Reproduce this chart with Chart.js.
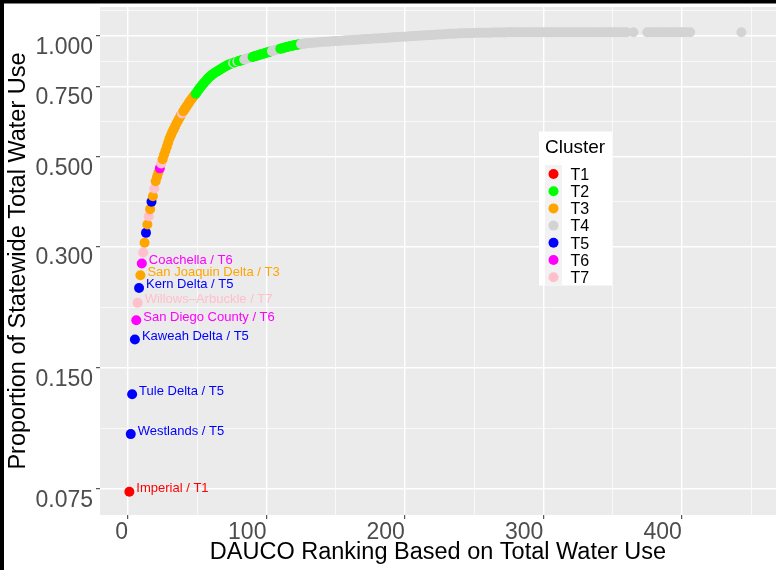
<!DOCTYPE html>
<html>
<head>
<meta charset="utf-8">
<script src="https://cdn.jsdelivr.net/npm/chart.js@4.4.0/dist/chart.umd.min.js"></script>
<style>
  html, body { margin: 0; padding: 0; background: #ffffff; }
  #wrap { position: relative; width: 776px; height: 570px; }
</style>
</head>
<body>
<div id="wrap"><canvas id="chart" width="776" height="570"></canvas></div>
<script>
// Cluster names and colours
const clusterNames = ['T1', 'T2', 'T3', 'T4', 'T5', 'T6', 'T7'];
const clusterColors = ['#FF0000', '#00FF00', '#FFA500', '#D3D3D3', '#0000FF', '#FF00FF', '#FFC0CB'];

// DAUCO rank (x), cumulative share of statewide water use (y), cluster number
const ranks = [
  1, 2, 3, 5, 6, 7, 8, 9, 10, 11, 12, 13, 14, 15, 16, 17, 18, 19, 20,
  21, 22, 23, 24, 25, 26, 27, 28, 29, 30, 31, 32, 33, 34, 35, 36, 37, 38, 39, 40,
  41, 42, 43, 44, 45, 46, 47, 48, 49, 50, 51, 52, 53, 54, 55, 56, 57, 58, 59, 60,
  61, 62, 63, 64, 65, 66, 67, 68, 69, 70, 71, 72, 73, 74, 75, 76, 77, 78, 79, 80,
  81, 82, 83, 84, 85, 86, 87, 88, 89, 90, 91, 92, 93, 94, 95, 96, 97, 98, 99, 100,
  101, 102, 103, 104, 105, 106, 107, 108, 109, 110, 111, 112, 113, 114, 115, 116, 117, 118, 119, 120,
  121, 122, 123, 124, 125, 126, 127, 128, 129, 130,
  132, 134, 136, 138, 140, 142, 144, 146, 148, 150, 152, 154, 156, 158, 160,
  162, 164, 166, 168, 170, 172, 174, 176, 178, 180, 182, 184, 186, 188, 190,
  192, 194, 196, 198, 200, 202, 204, 206, 208, 210, 212, 214, 216, 218, 220,
  222, 224, 226, 228, 230, 232, 234, 236, 238, 240, 242, 244, 246, 248, 250,
  252, 254, 256, 258, 260, 262, 264, 266, 268, 270, 272, 274, 276, 278, 280,
  282, 284, 286, 288, 290, 292, 294, 296, 298, 300, 302, 304, 306, 308, 310,
  312, 314, 316, 318, 320, 322, 324, 326, 328, 330, 332, 334, 336, 338, 340,
  342, 344, 346, 348, 350, 352, 354, 356, 358, 360,
  365, 375, 377, 379, 381, 383, 385, 387, 389, 391, 393, 395, 397, 399, 401, 403, 406,
  443
];
const shares = [
  0.0738, 0.1026, 0.1289, 0.1762, 0.1968, 0.2173, 0.2367, 0.2545, 0.2721, 0.2899, 0.3066, 0.3243, 0.3401, 0.3567, 0.3714, 0.3873, 0.400, 0.4178, 0.4357,
  0.447, 0.458, 0.469, 0.482, 0.494, 0.506, 0.518, 0.530, 0.543, 0.556, 0.567, 0.577, 0.586, 0.596, 0.606, 0.615, 0.624, 0.633, 0.642, 0.650,
  0.658, 0.666, 0.674, 0.682, 0.690, 0.697, 0.705, 0.712, 0.719, 0.727, 0.735, 0.743, 0.751, 0.758, 0.765, 0.772, 0.779, 0.786, 0.792, 0.797,
  0.802, 0.807, 0.811, 0.815, 0.819, 0.823, 0.827, 0.831, 0.835, 0.839, 0.843, 0.846, 0.849, 0.852, 0.855, 0.857, 0.859, 0.862, 0.864, 0.866,
  0.868, 0.870, 0.872, 0.874, 0.876, 0.879, 0.881, 0.883, 0.885, 0.887, 0.889, 0.891, 0.893, 0.895, 0.898, 0.900, 0.902, 0.904, 0.906, 0.909,
  0.911, 0.913, 0.915, 0.917, 0.919, 0.921, 0.923, 0.925, 0.927, 0.929, 0.931, 0.933, 0.935, 0.937, 0.939, 0.941, 0.943, 0.944, 0.946, 0.948,
  0.949, 0.951, 0.952, 0.953, 0.955, 0.956, 0.957, 0.958, 0.959, 0.960,
  0.961, 0.962, 0.963, 0.965, 0.966, 0.967, 0.968, 0.969, 0.970, 0.971, 0.972, 0.973, 0.974, 0.975, 0.976,
  0.977, 0.978, 0.979, 0.980, 0.981, 0.982, 0.983, 0.984, 0.985, 0.986, 0.987, 0.988, 0.989, 0.990, 0.991,
  0.992, 0.993, 0.994, 0.995, 0.996, 0.997, 0.998, 0.999, 1.000, 1.001, 1.002, 1.003, 1.004, 1.005, 1.006,
  1.007, 1.008, 1.009, 1.010, 1.011, 1.012, 1.013, 1.013, 1.014, 1.015, 1.015, 1.016, 1.016, 1.017, 1.017,
  1.018, 1.018, 1.018, 1.019, 1.019, 1.019, 1.020, 1.020, 1.020, 1.020, 1.020, 1.021, 1.021, 1.021, 1.021,
  1.021, 1.021, 1.021, 1.021, 1.021, 1.021, 1.021, 1.021, 1.021, 1.021, 1.021, 1.021, 1.021, 1.021, 1.021,
  1.021, 1.021, 1.021, 1.021, 1.021, 1.021, 1.021, 1.021, 1.021, 1.021, 1.021, 1.021, 1.021, 1.021, 1.021,
  1.021, 1.021, 1.021, 1.021, 1.021, 1.021, 1.021, 1.021, 1.021, 1.021,
  1.021, 1.021, 1.021, 1.021, 1.021, 1.021, 1.021, 1.021, 1.021, 1.021, 1.021, 1.021, 1.021, 1.021, 1.021, 1.021, 1.021,
  1.021
];
const clusters = [
  1, 5, 5, 5, 6, 7, 5, 3, 6, 7, 3, 5, 3, 7, 3, 5, 3, 7, 3,
  3, 3, 6, 7, 3, 3, 3, 3, 3, 3, 3, 3, 3, 3, 3, 3, 3, 3, 7, 3,
  3, 3, 3, 3, 3, 3, 3, 3, 2, 2, 2, 2, 2, 2, 2, 2, 2, 2, 2, 2,
  2, 2, 2, 2, 2, 2, 2, 2, 2, 2, 2, 2, 2, 2, 2, 4, 2, 2, 4, 2,
  2, 2, 2, 4, 4, 4, 4, 4, 4, 2, 2, 2, 2, 2, 2, 2, 2, 2, 2, 2,
  2, 2, 2, 4, 4, 4, 4, 4, 4, 2, 2, 2, 2, 2, 2, 2, 2, 2, 2, 2,
  2, 2, 2, 2, 4, 4, 4, 4, 4, 4,
  4, 4, 4, 4, 4, 4, 4, 4, 4, 4, 4, 4, 4, 4, 4,
  4, 4, 4, 4, 4, 4, 4, 4, 4, 4, 4, 4, 4, 4, 4,
  4, 4, 4, 4, 4, 4, 4, 4, 4, 4, 4, 4, 4, 4, 4,
  4, 4, 4, 4, 4, 4, 4, 4, 4, 4, 4, 4, 4, 4, 4,
  4, 4, 4, 4, 4, 4, 4, 4, 4, 4, 4, 4, 4, 4, 4,
  4, 4, 4, 4, 4, 4, 4, 4, 4, 4, 4, 4, 4, 4, 4,
  4, 4, 4, 4, 4, 4, 4, 4, 4, 4, 4, 4, 4, 4, 4,
  4, 4, 4, 4, 4, 4, 4, 4, 4, 4,
  4, 4, 4, 4, 4, 4, 4, 4, 4, 4, 4, 4, 4, 4, 4, 4, 4,
  4
];

// Labelled DAUCOs (by rank)
const labelRanks = [1, 2, 3, 5, 6, 7, 8, 9, 10];
const labelNames = ['Imperial', 'Westlands', 'Tule Delta', 'Kaweah Delta', 'San Diego County',
  'Willows\u2013Arbuckle', 'Kern Delta', 'San Joaquin Delta', 'Coachella'];

// Axis ticks
const xMajorTicks = [0, 100, 200, 300, 400];
const xMinorTicks = [50, 150, 250, 350, 450];
const yMajorTicks = [0.075, 0.15, 0.3, 0.5, 0.75, 1.0];
const yTickLabels = ['0.075', '0.150', '0.300', '0.500', '0.750', '1.000'];
const yMinorTicks = [0.1061, 0.2121, 0.3873, 0.6124, 0.8660, 1.1547];

const FONT = "'Liberation Sans', Arial, Helvetica, sans-serif";
const points = ranks.map((r, i) => ({ x: r, y: shares[i] }));
const pointColors = clusters.map(c => clusterColors[c - 1]);

// Grey panel background
const panelBg = {
  id: 'panelBg',
  beforeDraw(chart) {
    const { ctx, chartArea: a } = chart;
    ctx.save();
    ctx.fillStyle = '#000000';
    ctx.fillRect(0, 0, chart.width, 3.5);
    ctx.fillRect(0, 0, 4, chart.height);
    ctx.fillStyle = '#EBEBEB';
    ctx.fillRect(a.left, a.top, a.right - a.left, a.bottom - a.top);
    ctx.restore();
  }
};

// Text labels next to the top DAUCOs
const pointLabels = {
  id: 'pointLabels',
  afterDatasetsDraw(chart) {
    const { ctx } = chart;
    const meta = chart.getDatasetMeta(0);
    ctx.save();
    ctx.font = '13px ' + FONT;
    ctx.textAlign = 'left';
    ctx.textBaseline = 'alphabetic';
    labelRanks.forEach((r, k) => {
      const i = ranks.indexOf(r);
      const el = meta.data[i];
      const c = clusters[i];
      ctx.fillStyle = clusterColors[c - 1];
      ctx.fillText(labelNames[k] + ' / ' + clusterNames[c - 1], el.x + 7, el.y + 0.5);
    });
    ctx.restore();
  }
};

// ggplot-like legend inside the panel
const clusterLegend = {
  id: 'clusterLegend',
  afterDraw(chart) {
    const { ctx } = chart;
    const left = 539, top = 131.5;
    ctx.save();
    ctx.fillStyle = '#FFFFFF';
    ctx.fillRect(left, top, 73, 154);
    ctx.fillStyle = '#000000';
    ctx.font = '19px ' + FONT;
    ctx.textBaseline = 'alphabetic';
    ctx.fillText('Cluster', left + 6, top + 21.5);
    ctx.fillStyle = '#F2F2F2';
    ctx.fillRect(left + 6, top + 33.5, 17, 120);
    ctx.font = '16px ' + FONT;
    clusterNames.forEach((n, i) => {
      const cy = top + 42.5 + i * 17.2;
      ctx.fillStyle = clusterColors[i];
      ctx.beginPath();
      ctx.arc(left + 14.5, cy, 5, 0, Math.PI * 2);
      ctx.fill();
      ctx.fillStyle = '#000000';
      ctx.fillText(n, left + 31.5, cy + 5.8);
    });
    ctx.restore();
  }
};

const isMinorY = v => yMinorTicks.some(m => Math.abs(m - v) < 1e-6);
const isMinorX = v => xMinorTicks.includes(v);
const noPad = s => { s.paddingLeft = 0; s.paddingRight = 0; s.paddingTop = 0; s.paddingBottom = 0; };

new Chart(document.getElementById('chart'), {
  type: 'scatter',
  data: {
    datasets: [{
      data: points,
      pointRadius: 5,
      pointBorderWidth: 0,
      pointBackgroundColor: pointColors,
      pointHoverRadius: 5
    }]
  },
  options: {
    responsive: false,
    devicePixelRatio: 1,
    animation: false,
    events: [],
    layout: { autoPadding: false, padding: { top: 7, left: 0, right: 0, bottom: 0 } },
    plugins: {
      legend: { display: false },
      tooltip: { enabled: false }
    },
    scales: {
      x: {
        type: 'linear',
        min: -20.2,
        max: 468,
        afterBuildTicks: s => {
          s.ticks = xMajorTicks.concat(xMinorTicks).sort((a, b) => a - b).map(v => ({ value: v }));
        },
        afterFit: s => { s.height = 55; noPad(s); },
        border: { display: false },
        grid: {
          color: '#FFFFFF',
          lineWidth: c => isMinorX(c.tick.value) ? 0.7 : 1.4,
          tickLength: 4,
          tickColor: c => isMinorX(c.tick.value) ? 'rgba(0,0,0,0)' : '#333333',
          tickWidth: 1
        },
        ticks: {
          autoSkip: false,
          maxRotation: 0,
          align: 'end',
          padding: 0,
          color: '#4D4D4D',
          font: { family: FONT, size: 23 },
          callback: v => isMinorX(v) ? '' : String(v)
        },
        title: {
          display: true,
          text: 'DAUCO Ranking Based on Total Water Use',
          color: '#000000',
          font: { family: FONT, size: 23.5 },
          padding: { top: 0, bottom: 3 }
        }
      },
      y: {
        type: 'logarithmic',
        min: 0.0646,
        max: 1.18,
        afterBuildTicks: s => {
          s.ticks = yMajorTicks.concat(yMinorTicks).sort((a, b) => a - b).map(v => ({ value: v }));
        },
        afterFit: s => { s.width = 100; noPad(s); },
        border: { display: false },
        grid: {
          color: '#FFFFFF',
          lineWidth: c => isMinorY(c.tick.value) ? 0.7 : 1.4,
          tickLength: 4,
          tickColor: c => isMinorY(c.tick.value) ? 'rgba(0,0,0,0)' : '#333333',
          tickWidth: 1
        },
        ticks: {
          autoSkip: false,
          align: 'start',
          padding: 3,
          color: '#4D4D4D',
          font: { family: FONT, size: 23 },
          callback: v => {
            const k = yMajorTicks.findIndex(m => Math.abs(m - v) < 1e-6);
            return k < 0 ? '' : yTickLabels[k];
          }
        },
        title: {
          display: true,
          text: 'Proportion of Statewide Total Water Use',
          color: '#000000',
          font: { family: FONT, size: 23.5 },
          padding: { top: 4, bottom: 0 }
        }
      }
    }
  },
  plugins: [panelBg, pointLabels, clusterLegend]
});
</script>
</body>
</html>
